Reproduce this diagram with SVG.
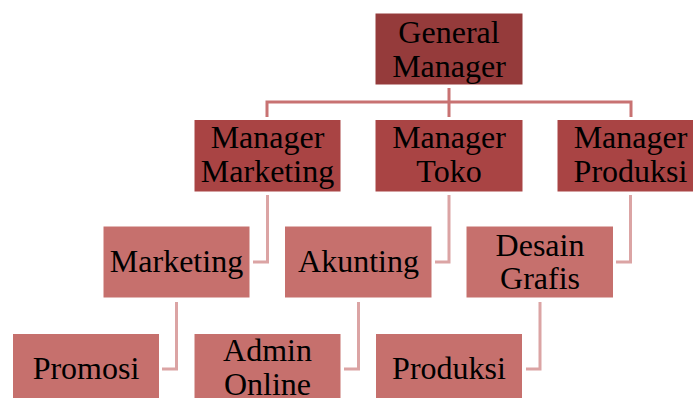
<svg xmlns="http://www.w3.org/2000/svg" width="693" height="398" viewBox="0 0 693 398">
<style>
.box{stroke:#fff;stroke-width:1}
.l1{fill:#953B3B}
.l2{fill:#A94444}
.l3{fill:#C6706D}
text{font-family:"Liberation Serif","Times New Roman",serif;font-size:32px;fill:#000;text-anchor:middle}
.c1{fill:none;stroke:#C87272;stroke-width:3}
.c2{fill:none;stroke:#DBA4A4;stroke-width:3}
</style>
<rect width="693" height="398" fill="#fff"/>
<g id="connectors">
<path class="c1" d="M449 88V102M267 117V102H631V117M449 102V117"/>
<path class="c2" d="M267.5 195V262H253"/>
<path class="c2" d="M449 195V262H435"/>
<path class="c2" d="M630.5 195V262H616"/>
<path class="c2" d="M176.5 302V369H162"/>
<path class="c2" d="M358.5 302V369H344"/>
<path class="c2" d="M540 302V369H526"/>
</g>
<g id="general-manager">
<rect class="box l1" x="375" y="13" width="148" height="72"/>
<text x="449" y="43">General</text>
<text x="449" y="77">Manager</text>
</g>
<g id="manager-marketing">
<rect class="box l2" x="194" y="119.5" width="147" height="72.5"/>
<text x="267.5" y="148">Manager</text>
<text x="267.5" y="182">Marketing</text>
</g>
<g id="manager-toko">
<rect class="box l2" x="375" y="119.5" width="148" height="72.5"/>
<text x="449" y="148">Manager</text>
<text x="449" y="182">Toko</text>
</g>
<g id="manager-produksi">
<rect class="box l2" x="557" y="119.5" width="147" height="72.5"/>
<text x="630.5" y="148">Manager</text>
<text x="630.5" y="182">Produksi</text>
</g>
<g id="marketing">
<rect class="box l3" x="103" y="226" width="147" height="72"/>
<text x="176.5" y="272">Marketing</text>
</g>
<g id="akunting">
<rect class="box l3" x="284.5" y="226" width="147.5" height="72"/>
<text x="358.5" y="272">Akunting</text>
</g>
<g id="desain-grafis">
<rect class="box l3" x="466" y="226" width="147.5" height="72"/>
<text x="540" y="256">Desain</text>
<text x="540" y="289">Grafis</text>
</g>
<g id="promosi">
<rect class="box l3" x="12.5" y="333.5" width="147" height="72"/>
<text x="86" y="379">Promosi</text>
</g>
<g id="admin-online">
<rect class="box l3" x="194" y="333.5" width="147" height="72"/>
<text x="267.5" y="361">Admin</text>
<text x="267.5" y="395">Online</text>
</g>
<g id="produksi">
<rect class="box l3" x="375.5" y="333.5" width="147" height="72"/>
<text x="449" y="379">Produksi</text>
</g>
</svg>
